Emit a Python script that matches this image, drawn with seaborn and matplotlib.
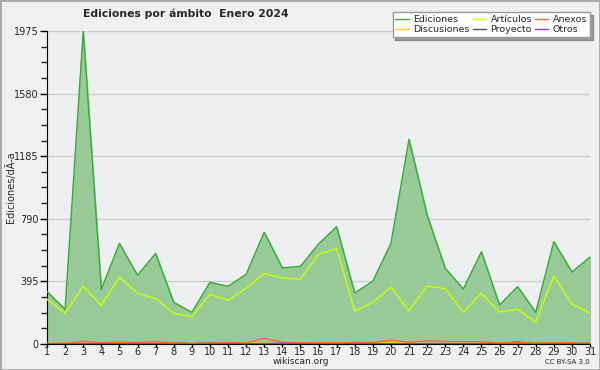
import matplotlib
matplotlib.use('Agg')
import matplotlib.pyplot as plt
import numpy as np
import pandas as pd
import seaborn as sns
from matplotlib.patches import Rectangle
from matplotlib.ticker import AutoMinorLocator

days = list(range(1, 32))
ediciones = [330, 219, 1975, 345, 635, 434, 572, 263, 200, 389, 364, 440, 705, 480, 490,
             631, 740, 322, 396, 635, 1292, 814, 478, 347, 582, 246, 362, 200, 646, 454, 549]
articulos = [282, 194, 364, 244, 421, 320, 286, 194, 172, 313, 276, 351, 446, 416, 408,
             566, 603, 208, 261, 358, 210, 366, 349, 200, 320, 202, 219, 137, 429, 252, 196]
anexos = [4, 5, 17, 8, 12, 9, 15, 8, 4, 6, 10, 6, 36, 10, 8,
          6, 7, 10, 9, 25, 10, 20, 15, 15, 14, 6, 10, 5, 8, 6, 5]
discusiones = [3, 4, 6, 3, 6, 5, 5, 3, 2, 4, 9, 4, 6, 5, 10,
               4, 6, 4, 5, 6, 3, 5, 4, 4, 5, 3, 4, 3, 6, 4, 3]
proyecto = [2, 1, 3, 2, 2, 3, 2, 8, 2, 7, 3, 2, 3, 2, 3,
            2, 2, 2, 3, 2, 2, 3, 2, 2, 3, 3, 12, 3, 6, 4, 3]
otros = [1, 0, 1, 0, 1, 0, 1, 0, 0, 1, 1, 1, 2, 5, 1,
         1, 0, 1, 1, 0, 0, 1, 1, 0, 1, 0, 1, 0, 1, 1, 0]

series = ['Ediciones', 'Discusiones', 'Artículos', 'Proyecto', 'Anexos', 'Otros']
colors = {'Ediciones': '#3aaa3a', 'Discusiones': '#ffcc22', 'Artículos': '#ccff00',
          'Proyecto': '#555555', 'Anexos': '#ff6633', 'Otros': '#9933ff'}

df = pd.DataFrame({'day': days, 'Ediciones': ediciones, 'Artículos': articulos,
                   'Anexos': anexos, 'Discusiones': discusiones,
                   'Proyecto': proyecto, 'Otros': otros})
long = df.melt(id_vars='day', var_name='serie', value_name='valor')

sns.set_style('white')
plt.rcParams['font.family'] = ['DejaVu Sans']

fig = plt.figure(figsize=(6, 3.7), dpi=100, facecolor='#f0f0f0')
fig.patches.append(Rectangle((0, 0), 1, 1, transform=fig.transFigure, fill=False,
                             edgecolor='#a8a8a8', linewidth=2))
ax = fig.add_axes([47 / 600, 26 / 370, 543 / 600, 313 / 370])
ax.set_facecolor('#eeeff1')

ax.fill_between(df['day'], df['Ediciones'], color='#99cb99', zorder=1)
draw_order = ['Ediciones', 'Artículos', 'Discusiones', 'Proyecto', 'Anexos', 'Otros']
sns.lineplot(data=long, x='day', y='valor', hue='serie', hue_order=draw_order,
             palette=colors, linewidth=1, ax=ax, legend=False, zorder=3)

ax.set_xlim(1, 31)
ax.set_ylim(0, 1975)
ax.set_xticks(days)
ax.set_yticks([0, 395, 790, 1185, 1580, 1975])
ax.yaxis.set_minor_locator(AutoMinorLocator(4))
ax.grid(axis='y', color='#cccccc', linewidth=1, zorder=0)
ax.set_axisbelow(True)
for s in ['top', 'right']:
    ax.spines[s].set_visible(False)
ax.spines['left'].set_color('black')
ax.spines['bottom'].set_color('black')
ax.tick_params(axis='y', labelsize=7, length=5, width=1, color='black', pad=1, left=True)
ax.tick_params(axis='y', which='minor', length=4, width=1, left=True)
ax.tick_params(axis='x', labelsize=7, length=2, width=1, color='black', pad=0, bottom=True)
ax.set_xlabel('')
ax.set_ylabel('Ediciones/dÃ-a', fontsize=7)
ax.yaxis.set_label_coords(-0.058, 0.5)

fig.text(186 / 600, 1 - 14 / 370, 'Ediciones por ámbito  Enero 2024', ha='center', va='center',
         fontsize=7.8, fontweight='bold')
fig.text(301 / 600, 1 - 361 / 370, 'wikiscan.org', ha='center', va='center', fontsize=6.5)
fig.text(590 / 600, 1 - 362 / 370, 'CC BY-SA 3.0', ha='right', va='center', fontsize=5)

handles = [plt.Line2D([], [], color=colors[s], linewidth=1) for s in series]
leg = fig.legend(handles, series, loc='upper right', bbox_to_anchor=(590 / 600, 1 - 12 / 370),
                 ncol=3, fontsize=6.8, frameon=True, fancybox=False, shadow=True,
                 handlelength=1.4, handletextpad=0.5, columnspacing=0.3, labelspacing=0.15,
                 borderpad=0.3, borderaxespad=0)
leg.get_frame().set_edgecolor('#999999')
leg.get_frame().set_facecolor('white')

fig.savefig('out.png', dpi=100, facecolor=fig.get_facecolor())
